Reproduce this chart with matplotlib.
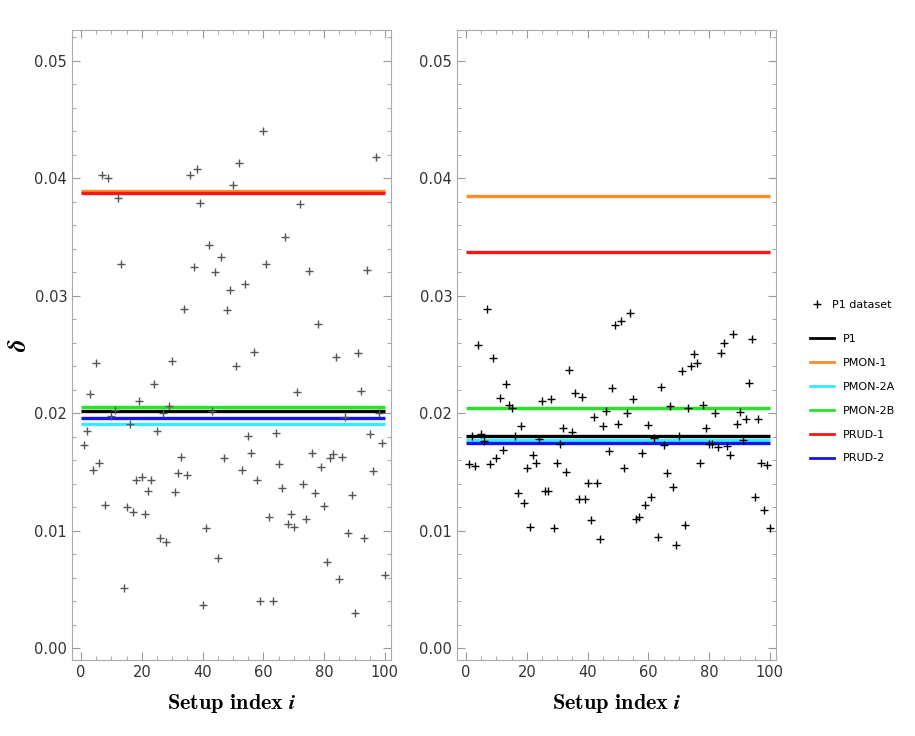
import numpy as np
import matplotlib
matplotlib.use("Agg")
import matplotlib.pyplot as plt
from matplotlib.lines import Line2D
from matplotlib.ticker import MultipleLocator

plt.rcParams['mathtext.fontset'] = 'cm'

# setup index 1..100
idx = np.arange(1, 101)

# left panel, P1 dataset
delta_left = [
    0.0173, 0.0185, 0.0216, 0.0152, 0.0243, 0.0158, 0.0403, 0.0122, 0.0400, 0.0198,
    0.0203, 0.0383, 0.0327, 0.0051, 0.0120, 0.0191, 0.0116, 0.0143, 0.0210, 0.0146,
    0.0114, 0.0134, 0.0143, 0.0225, 0.0185, 0.0094, 0.0200, 0.0090, 0.0206, 0.0244,
    0.0133, 0.0149, 0.0163, 0.0289, 0.0147, 0.0403, 0.0324, 0.0408, 0.0379, 0.0037,
    0.0102, 0.0343, 0.0202, 0.0320, 0.0077, 0.0333, 0.0162, 0.0288, 0.0305, 0.0394,
    0.0240, 0.0413, 0.0152, 0.0310, 0.0181, 0.0166, 0.0252, 0.0143, 0.0040, 0.0440,
    0.0327, 0.0112, 0.0040, 0.0183, 0.0157, 0.0136, 0.0350, 0.0106, 0.0114, 0.0103,
    0.0218, 0.0378, 0.0140, 0.0110, 0.0321, 0.0166, 0.0132, 0.0276, 0.0154, 0.0121,
    0.0073, 0.0162, 0.0165, 0.0248, 0.0059, 0.0163, 0.0197, 0.0098, 0.0130, 0.0030,
    0.0251, 0.0219, 0.0094, 0.0322, 0.0182, 0.0151, 0.0418, 0.0200, 0.0175, 0.0062,
]

# right panel, P1 dataset
delta_right = [
    0.0157, 0.0181, 0.0155, 0.0258, 0.0182, 0.0176, 0.0289, 0.0157, 0.0247, 0.0162,
    0.0213, 0.0169, 0.0225, 0.0207, 0.0204, 0.0181, 0.0132, 0.0189, 0.0124, 0.0153,
    0.0103, 0.0164, 0.0158, 0.0178, 0.0210, 0.0134, 0.0134, 0.0212, 0.0102, 0.0158,
    0.0174, 0.0187, 0.0150, 0.0237, 0.0184, 0.0217, 0.0127, 0.0214, 0.0127, 0.0141,
    0.0109, 0.0197, 0.0141, 0.0093, 0.0189, 0.0202, 0.0168, 0.0221, 0.0275, 0.0191,
    0.0278, 0.0153, 0.0200, 0.0285, 0.0212, 0.0110, 0.0112, 0.0166, 0.0122, 0.0190,
    0.0129, 0.0179, 0.0095, 0.0222, 0.0173, 0.0149, 0.0206, 0.0137, 0.0088, 0.0181,
    0.0236, 0.0105, 0.0204, 0.0240, 0.0250, 0.0243, 0.0158, 0.0207, 0.0187, 0.0174,
    0.0174, 0.0200, 0.0171, 0.0251, 0.0260, 0.0172, 0.0164, 0.0267, 0.0191, 0.0201,
    0.0177, 0.0195, 0.0226, 0.0263, 0.0129, 0.0195, 0.0158, 0.0118, 0.0156, 0.0102,
]

methods = ['P1', 'PMON-1', 'PMON-2A', 'PMON-2B', 'PRUD-1', 'PRUD-2']
colors = ['black', '#ff8c24', '#33eeff', '#22e622', '#ff1414', '#1414ee']
levels_left = [0.0202, 0.0389, 0.0191, 0.0205, 0.0387, 0.0196]
levels_right = [0.0181, 0.0385, 0.0177, 0.0204, 0.0337, 0.0175]

# drawing order (bottom -> top)
order_left = [2, 5, 0, 3, 1, 4]
order_right = [1, 4, 3, 0, 2, 5]

fig = plt.figure(figsize=(9.15, 7.36), dpi=100)
W, H = 915, 736
ax1 = fig.add_axes([72 / W, 1 - 660 / H, 319 / W, 630 / H])
ax2 = fig.add_axes([457 / W, 1 - 660 / H, 319 / W, 630 / H])

def style(ax):
    ax.set_xlim(-3, 102)
    ax.set_ylim(-0.001, 0.0526)
    ax.xaxis.set_major_locator(MultipleLocator(20))
    ax.xaxis.set_minor_locator(MultipleLocator(5))
    ax.yaxis.set_major_locator(MultipleLocator(0.01))
    ax.yaxis.set_minor_locator(MultipleLocator(0.002))
    ax.yaxis.set_major_formatter(matplotlib.ticker.FormatStrFormatter('%.2f'))
    ax.tick_params(which='both', direction='in', top=True, right=True,
                   color='#999999', labelcolor='#333333', labelsize=10.5)
    ax.tick_params(which='major', length=6)
    ax.tick_params(which='minor', length=3)
    for s in ax.spines.values():
        s.set_color('#aaaaaa')
    ax.set_xlabel(r'$\mathbf{Setup\ index}\ \boldsymbol{i}$', fontsize=16, labelpad=9)

for ax, data, levels, order, mc in [(ax1, delta_left, levels_left, order_left, '#555555'),
                                    (ax2, delta_right, levels_right, order_right, 'black')]:
    style(ax)
    for k in order:
        ax.hlines(levels[k], 0, 100, color=colors[k], lw=2.4, zorder=2)
    ax.plot(idx, data, '+', color=mc, ms=6, mew=1.0, zorder=3)

ax1.set_ylabel(r'$\boldsymbol{\delta}$', fontsize=18)
ax1.yaxis.set_label_coords(-0.13, 0.5)

# legends
h_data = [Line2D([], [], ls='none', marker='+', color='black', ms=6, mew=1.0)]
fig.legend(h_data, ['P1 dataset'], loc='center left', bbox_to_anchor=(800 / W, 1 - 305 / H),
           frameon=False, fontsize=8, handlelength=1.2)
h_lines = [Line2D([], [], color=c, lw=2) for c in colors]
fig.legend(h_lines, methods, loc='upper left', bbox_to_anchor=(800 / W, 1 - 324 / H),
           frameon=False, fontsize=8, handlelength=2.2, labelspacing=1.25)

fig.savefig('out.png', dpi=100)
